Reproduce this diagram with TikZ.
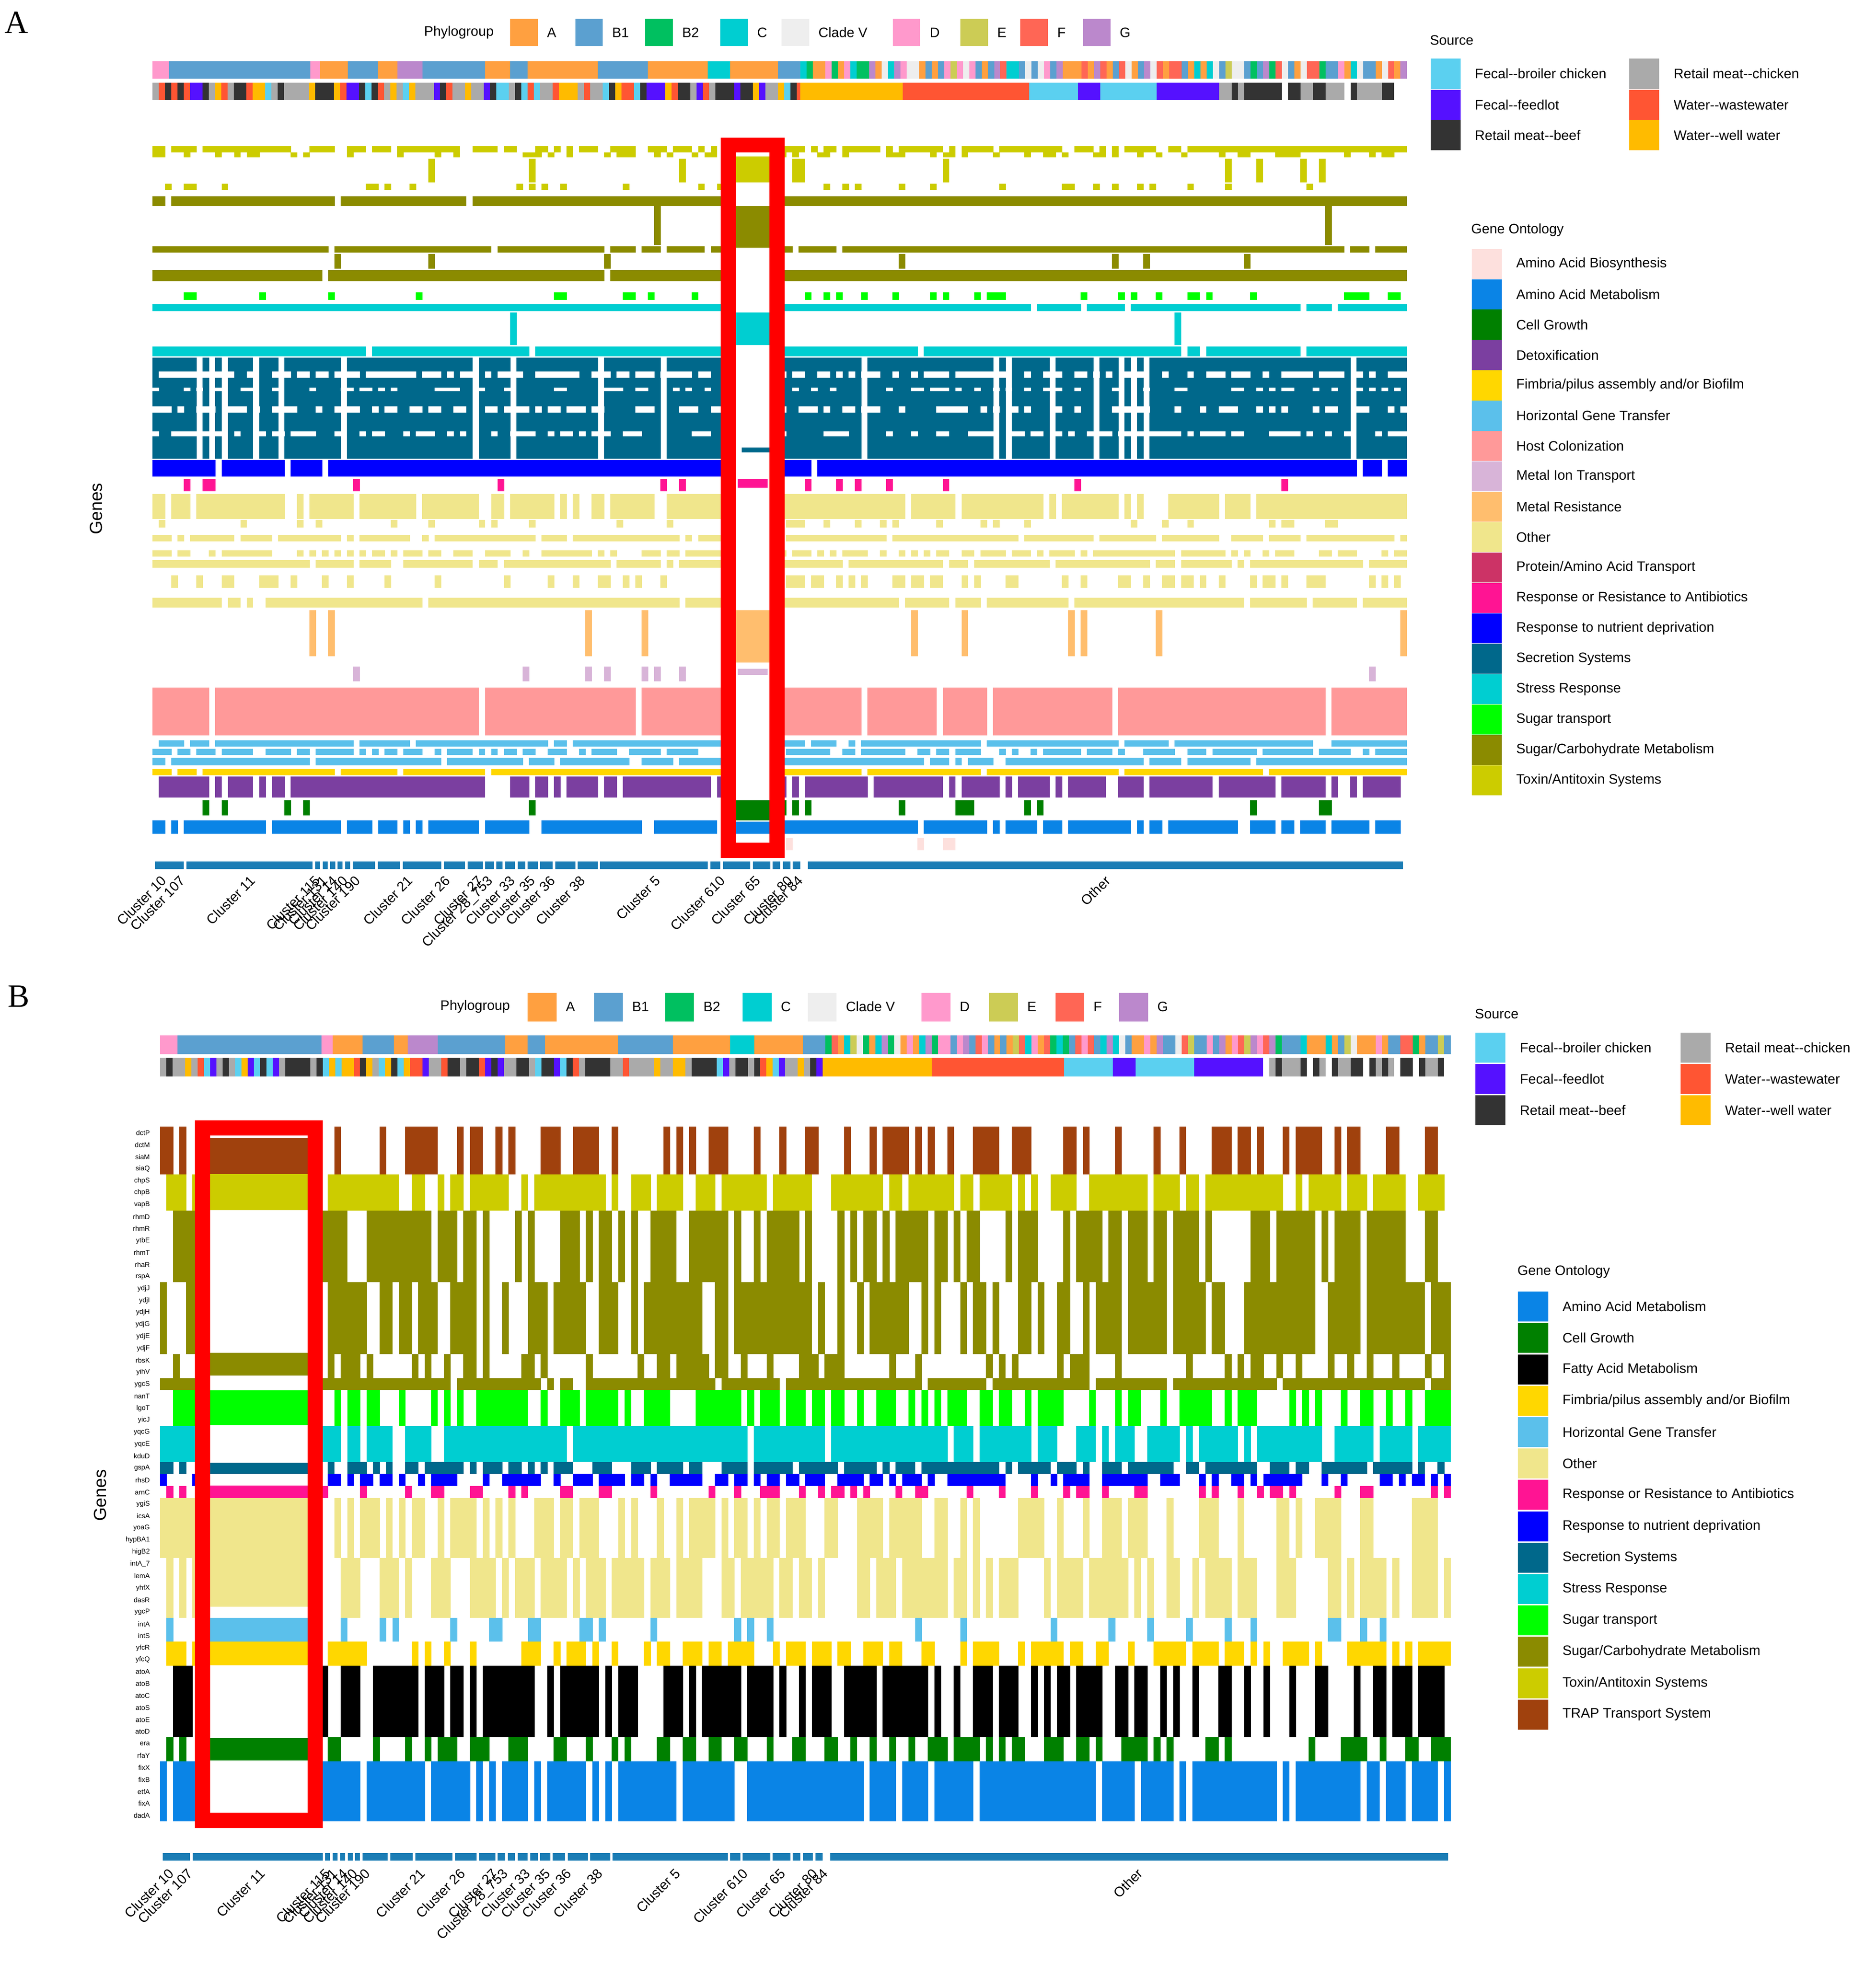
\documentclass[tikz,border=0pt]{standalone}
\usepackage{fontspec}
\setmainfont{Liberation Sans}[Ligatures=NoCommon]
\newfontfamily\serifA{Liberation Serif}
\definecolor{pA}{HTML}{FFA040}\definecolor{pBa}{HTML}{5BA0D0}\definecolor{pBb}{HTML}{00C060}
\definecolor{pC}{HTML}{00CED1}\definecolor{pV}{HTML}{EEEEEE}\definecolor{pD}{HTML}{FF99CC}
\definecolor{pE}{HTML}{CCCC55}\definecolor{pF}{HTML}{FF6655}\definecolor{pG}{HTML}{BB88CC}
\definecolor{sBr}{HTML}{5BD0F0}\definecolor{sFe}{HTML}{5511FF}\definecolor{sBe}{HTML}{333333}
\definecolor{sRc}{HTML}{AAAAAA}\definecolor{sWw}{HTML}{FF5533}\definecolor{sWe}{HTML}{FFBB00}
\definecolor{aabio}{HTML}{FDE0DD}\definecolor{aamet}{HTML}{0A84E6}\definecolor{cellg}{HTML}{008000}
\definecolor{detox}{HTML}{7B3FA0}\definecolor{fimb}{HTML}{FFD700}\definecolor{hgt}{HTML}{5BC0EB}
\definecolor{host}{HTML}{FF9999}\definecolor{metalion}{HTML}{D8B4D8}\definecolor{metalres}{HTML}{FFBE6E}
\definecolor{other}{HTML}{F0E68C}\definecolor{protein}{HTML}{CC3366}\definecolor{antib}{HTML}{FF1493}
\definecolor{nutr}{HTML}{0000FF}\definecolor{secr}{HTML}{00688B}\definecolor{stress}{HTML}{00CED1}
\definecolor{sugart}{HTML}{00FF00}\definecolor{sugar}{HTML}{8B8B00}\definecolor{toxin}{HTML}{CCCC00}
\definecolor{fatty}{HTML}{000000}\definecolor{trap}{HTML}{A0410D}\definecolor{clus}{HTML}{1B7DB5}
\pgfmathsetseed{7}
\pgfmathdeclarerandomlist{phylo}{{pA}{pBa}{pBb}{pC}{pV}{pD}{pE}{pF}{pG}{pBa}{pA}}
\pgfmathdeclarerandomlist{src}{{sBr}{sFe}{sBe}{sRc}{sWw}{sWe}{sBe}{sRc}}
\pgfmathdeclarerandomlist{srcg}{{sBe}{sRc}{sBe}{sRc}{white}}
\newcommand\hb[4]{\foreach \i in {0,...,199}{\pgfmathsetmacro\ok{rnd<#4}\ifdim\ok pt>0.5pt\fill[#3](\XO+\i*\CW,#1) rectangle (\XO+\i*\CW+\CW+0.3,#2);\fi}}
\newcommand\rb[4]{\hb{\YO+#1*\RH}{\YO+#2*\RH+\RH}{#3}{#4}}
\newcommand\rndbar[5]{\foreach \i in {0,...,#2}{\pgfmathrandomitem{\cc}{#5}\fill[\cc](#1+\i*5,#3) rectangle (#1+\i*5+5.3,#4);}}
\newcommand\legitem[4]{\fill[#3](#1,#2-12) rectangle ++(24,24);\node[anchor=west,font=\fontsize{11}{13}\selectfont] at (#1+32,#2) {#4};}
\newcommand\dd{-{}-}
\begin{document}
\begin{tikzpicture}[x=1pt,y=-1pt,lbl/.style={font=\fontsize{11}{13}\selectfont},
 clab/.style={font=\fontsize{11}{13}\selectfont,rotate=45,anchor=north east,inner sep=1pt},
 gl/.style={font=\fontsize{5.5}{6}\selectfont,anchor=east,inner sep=1pt}]
\useasboundingbox (0,0) rectangle (1500,1570);
% ================= PANEL A
\node[font=\serifA\fontsize{26}{28}\selectfont] (LA) at (13,18) {A};
\node[lbl] (phA) at (367,26) {Phylogroup};
\foreach \x/\c/\t in {408/pA/A,460/pBa/B1,516/pBb/B2,576/pC/C,625/pV/Clade V,714/pD/D,768/pE/E,816/pF/F,866/pG/G}{\fill[\c](\x,15) rectangle ++(22,22);\node[lbl,anchor=west] at (\x+26,26){\t};}
\foreach \a/\b/\c in {122/135/pD,135/248/pBa,248/256/pD,256/278/pA,278/302/pBa,302/318/pA,318/338/pG,338/388/pBa,388/408/pA,408/422/pBa,422/478/pA,478/518/pBa,518/566/pA,566/584/pC,584/622/pA,622/640/pBa}{\fill[\c](\a,49) rectangle (\b,63);}
\rndbar{640}{96}{49}{63}{phylo}
\rndbar{122}{103}{66}{80}{src}
\fill[sWe](640,66) rectangle (722,80);\fill[sWw](722,66) rectangle (823,80);\fill[sBr](823,66) rectangle (862,80);
\fill[sFe](862,66) rectangle (880,80);\fill[sBr](880,66) rectangle (925,80);\fill[sFe](925,66) rectangle (975,80);
\rndbar{975}{29}{66}{80}{srcg}
\def\XO{122}\def\CW{5.015}
\hb{117}{122}{toxin}{0.75}\hb{122}{126}{toxin}{0.3}\hb{127}{146}{toxin}{0.04}\hb{147}{152}{toxin}{0.2}
\hb{157}{165}{sugar}{0.97}\hb{165}{196}{sugar}{0.02}\hb{197}{202}{sugar}{0.95}\hb{203}{215}{sugar}{0.05}\hb{216}{225}{sugar}{0.97}
\hb{234}{240}{sugart}{0.2}
\hb{243}{249}{stress}{0.97}\hb{250}{276}{stress}{0.03}\hb{277}{285}{stress}{0.97}
\hb{286}{367}{secr}{0.88}\hb{297}{302}{white}{0.6}\hb{325}{330}{white}{0.5}\hb{345}{349}{white}{0.5}\hb{310}{313}{white}{0.3}
\hb{368}{381}{nutr}{0.95}
\hb{383}{393}{antib}{0.08}
\hb{395}{415}{other}{0.85}\hb{416}{422}{other}{0.2}\hb{428}{433}{other}{0.9}\hb{440}{445}{other}{0.6}\hb{448}{454}{other}{0.9}\hb{460}{470}{other}{0.3}\hb{478}{486}{other}{0.95}
\hb{488}{525}{metalres}{0.06}
\hb{533}{545}{metalion}{0.04}
\hb{550}{588}{host}{0.95}
\hb{592}{597}{hgt}{0.9}\hb{599}{604}{hgt}{0.7}\hb{606}{612}{hgt}{0.9}
\hb{615}{620}{fimb}{0.95}
\hb{621}{638}{detox}{0.85}
\hb{640}{652}{cellg}{0.08}
\hb{656}{667}{aamet}{0.85}
\hb{670}{680}{aabio}{0.03}
\fill[white](588,115) rectangle (616,682);
\fill[toxin](588,125) rectangle (616,146);\fill[sugar](588,165) rectangle (616,198);\fill[stress](588,250) rectangle (616,276);
\fill[secr](593,358) rectangle (616,362);\fill[antib](590,383) rectangle (614,390);\fill[metalres](588,488) rectangle (616,530);
\fill[metalion](590,535) rectangle (614,540);\fill[cellg](588,640) rectangle (616,656);\fill[aamet](588,657) rectangle (616,667);
\node[draw=red,line width=12pt,minimum width=39pt,minimum height=564pt,inner sep=0pt] (boxA) at (602,398) {};
\node[lbl,rotate=90,font=\fontsize{14}{16}\selectfont] (gA) at (77,407) {Genes};
\foreach \a/\b in {124/147,149/250,252/256,258/262,264/268,270/274,276/280,282/300,302/320,322/353,355/372,374/386,388/395,397/402,404/412,414/420,422/430,432/442,444/460,462/478,480/566,568/576,578/600,602/616,618/624,626/632,634/640,646/1122}{\fill[clus](\a,689) rectangle (\b,695);}
\foreach \x/\t in {128/Cluster 10,143/Cluster 107,199/Cluster 11,251/Cluster 115,257/Cluster 131,265/Cluster 14,273/Cluster 140,283/Cluster 190,325/Cluster 21,355/Cluster 26,381/Cluster 27,389/Cluster 28\_753,407/Cluster 33,423/Cluster 35,439/Cluster 36,463/Cluster 38,523/Cluster 5,575/Cluster 610,603/Cluster 65,629/Cluster 80,637/Cluster 84,883/Other}{\node[clab] at (\x,698){\t};}
\node[lbl,anchor=west] (srcA) at (1140,32) {Source};
\legitem{1144}{59}{sBr}{Fecal\dd broiler chicken}\legitem{1144}{84}{sFe}{Fecal\dd feedlot}\legitem{1144}{108}{sBe}{Retail meat\dd beef}
\legitem{1303}{59}{sRc}{Retail meat\dd chicken}\legitem{1303}{84}{sWw}{Water\dd wastewater}\legitem{1303}{108}{sWe}{Water\dd well water}
\node[lbl,anchor=west] (goA) at (1173,184) {Gene Ontology};
\foreach \c/\t [count=\k from 0] in {aabio/Amino Acid Biosynthesis,aamet/Amino Acid Metabolism,cellg/Cell Growth,detox/Detoxification,fimb/Fimbria\slash pilus assembly and\slash or Biofilm,hgt/Horizontal Gene Transfer,host/Host Colonization,metalion/Metal Ion Transport,metalres/Metal Resistance,other/Other,protein/Protein\slash Amino Acid Transport,antib/Response or Resistance to Antibiotics,nutr/Response to nutrient deprivation,secr/Secretion Systems,stress/Stress Response,sugart/Sugar transport,sugar/Sugar\slash Carbohydrate Metabolism,toxin/Toxin\slash Antitoxin Systems}{\legitem{1177}{211+24.3*\k}{\c}{\t}}
% ================= PANEL B
\node[font=\serifA\fontsize{26}{28}\selectfont] (LB) at (15,797) {B};
\node[lbl] (phB) at (380,805) {Phylogroup};
\foreach \x/\c/\t in {422/pA/A,475/pBa/B1,532/pBb/B2,594/pC/C,646/pV/Clade V,737/pD/D,791/pE/E,844/pF/F,895/pG/G}{\fill[\c](\x,794) rectangle ++(23,23);\node[lbl,anchor=west] at (\x+27,805){\t};}
\foreach \a/\b/\c in {128/142/pD,142/257/pBa,257/266/pD,266/290/pA,290/315/pBa,315/326/pA,326/350/pG,350/404/pBa,404/422/pA,422/436/pBa,436/494/pA,494/538/pBa,538/584/pA,584/603/pC,603/642/pA,642/660/pBa}{\fill[\c](\a,828) rectangle (\b,843);}
\rndbar{660}{99}{828}{843}{phylo}
\rndbar{128}{106}{846}{861}{src}
\fill[sWe](663,846) rectangle (745,861);\fill[sWw](745,846) rectangle (851,861);\fill[sBr](851,846) rectangle (890,861);
\fill[sFe](890,846) rectangle (908,861);\fill[sBr](908,846) rectangle (955,861);\fill[sFe](955,846) rectangle (1010,861);
\rndbar{1010}{29}{846}{861}{srcg}
\def\XO{128}\def\CW{5.16}\def\YO{901}\def\RH{9.58}
\rb{0}{3}{trap}{0.45}\rb{4}{6}{toxin}{0.75}\rb{7}{12}{sugar}{0.6}\rb{13}{18}{sugar}{0.7}\rb{19}{20}{sugar}{0.3}\rb{21}{21}{sugar}{0.9}
\rb{22}{24}{sugart}{0.55}\rb{25}{27}{stress}{0.85}\rb{28}{28}{secr}{0.7}\rb{29}{29}{nutr}{0.6}\rb{30}{30}{antib}{0.35}
\rb{31}{35}{other}{0.5}\rb{36}{40}{other}{0.6}\rb{41}{42}{hgt}{0.15}\rb{43}{44}{fimb}{0.5}\rb{45}{50}{fatty}{0.6}
\rb{51}{52}{cellg}{0.4}\rb{53}{57}{aamet}{0.85}
\fill[white](162,901) rectangle (252,1458);
\fill[trap](162,910) rectangle (252,939);\fill[toxin](162,939) rectangle (252,968);\fill[sugar](162,1082) rectangle (252,1100);
\fill[sugart](162,1112) rectangle (252,1140);\fill[secr](162,1170) rectangle (252,1179);\fill[antib](162,1188) rectangle (252,1198);
\fill[other](162,1198) rectangle (252,1285);\fill[hgt](162,1294) rectangle (252,1313);\fill[fimb](162,1313) rectangle (252,1332);
\fill[cellg](162,1390) rectangle (252,1408);
\node[draw=red,line width=12pt,minimum width=90pt,minimum height=554pt,inner sep=0pt] (boxB) at (207,1179) {};
\node[lbl,rotate=90,font=\fontsize{14}{16}\selectfont] (gB) at (80,1196) {Genes};
\foreach \t [count=\k from 0] in {dctP,dctM,siaM,siaQ,chpS,chpB,vapB,rhmD,rhmR,ytbE,rhmT,rhaR,rspA,ydjJ,ydjI,ydjH,ydjG,ydjE,ydjF,rbsK,yihV,ygcS,nanT,lgoT,yicJ,yqcG,yqcE,kduD,gspA,rhsD,arnC,ygiS,icsA,yoaG,hypBA1,higB2,intA\_7,lemA,yhfX,dasR,ygcP,intA,intS,yfcR,yfcQ,atoA,atoB,atoC,atoS,atoE,atoD,era,rfaY,fixX,fixB,etfA,fixA,dadA}{\node[gl] at (121,906+9.58*\k){\t};}
\foreach \a/\b in {130/152,154/258,260/264,266/270,272/276,278/282,284/288,290/310,312/330,332/362,364/381,383/396,398/404,406/412,414/422,424/430,432/440,442/452,454/470,472/488,490/582,584/592,594/616,618/632,634/640,642/650,652/658,664/1158}{\fill[clus](\a,1482) rectangle (\b,1488);}
\foreach \x/\t in {134/Cluster 10,149/Cluster 107,207/Cluster 11,259/Cluster 115,265/Cluster 131,273/Cluster 14,281/Cluster 140,291/Cluster 190,335/Cluster 21,367/Cluster 26,393/Cluster 27,401/Cluster 28\_753,419/Cluster 33,435/Cluster 35,452/Cluster 36,477/Cluster 38,539/Cluster 5,593/Cluster 610,623/Cluster 65,649/Cluster 80,657/Cluster 84,909/Other}{\node[clab] at (\x,1492){\t};}
\node[lbl,anchor=west] (srcB) at (1176,811) {Source};
\legitem{1180}{838}{sBr}{Fecal\dd broiler chicken}\legitem{1180}{863}{sFe}{Fecal\dd feedlot}\legitem{1180}{888}{sBe}{Retail meat\dd beef}
\legitem{1344}{838}{sRc}{Retail meat\dd chicken}\legitem{1344}{863}{sWw}{Water\dd wastewater}\legitem{1344}{888}{sWe}{Water\dd well water}
\node[lbl,anchor=west] (goB) at (1210,1017) {Gene Ontology};
\foreach \c/\t [count=\k from 0] in {aamet/Amino Acid Metabolism,cellg/Cell Growth,fatty/Fatty Acid Metabolism,fimb/Fimbria\slash pilus assembly and\slash or Biofilm,hgt/Horizontal Gene Transfer,other/Other,antib/Response or Resistance to Antibiotics,nutr/Response to nutrient deprivation,secr/Secretion Systems,stress/Stress Response,sugart/Sugar transport,sugar/Sugar\slash Carbohydrate Metabolism,toxin/Toxin\slash Antitoxin Systems,trap/TRAP Transport System}{\legitem{1214}{1045+25.1*\k}{\c}{\t}}
\end{tikzpicture}
\end{document}
